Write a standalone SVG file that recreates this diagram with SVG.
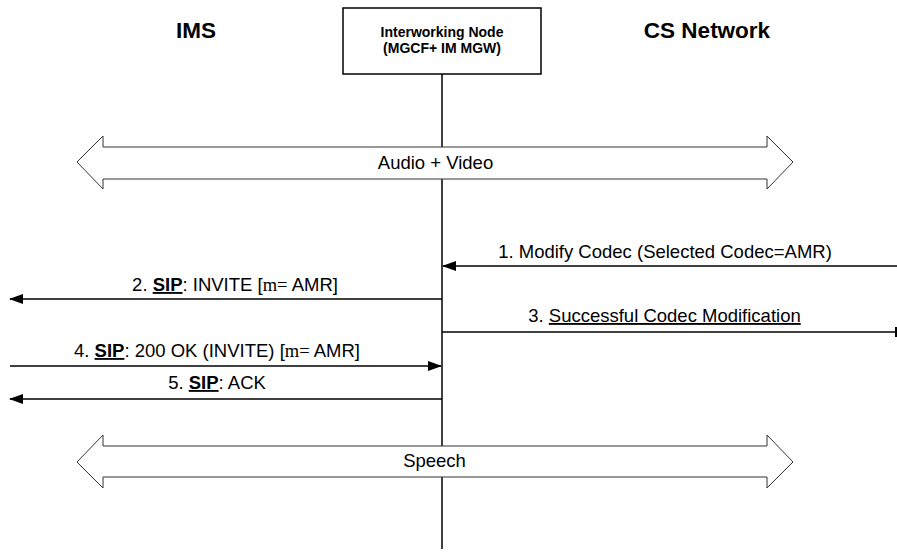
<svg xmlns="http://www.w3.org/2000/svg" width="897" height="558" viewBox="0 0 897 558">
<style>
text{font-family:"Liberation Sans",Arial,sans-serif;fill:#000}
.hdr{font-size:22.5px;font-weight:bold}
.lbl{font-size:18.5px}
.tm{font-family:"Liberation Serif","Times New Roman",serif}
.msg{stroke:#000;stroke-width:1.5;fill:none}
.big{fill:#fff;stroke:#333;stroke-width:1}
</style>
<defs>
<marker id="ah" markerWidth="14" markerHeight="10" refX="13" refY="5" orient="auto" markerUnits="userSpaceOnUse">
<path d="M0,0 L14,5 L0,10 Z" fill="#000"/>
</marker>
<marker id="tee" markerWidth="2" markerHeight="10" refX="1" refY="5" orient="auto" markerUnits="userSpaceOnUse">
<rect x="0" y="0" width="2" height="10" fill="#000"/>
</marker>
</defs>
<rect width="897" height="558" fill="#fff"/>
<text class="hdr" x="196" y="38" text-anchor="middle">IMS</text>
<text class="hdr" x="707" y="38" text-anchor="middle">CS Network</text>
<g id="node-iw">
<rect x="343" y="8" width="198" height="66" fill="#fff" stroke="#000" stroke-width="1.5"/>
<text x="442" y="37" text-anchor="middle" font-size="14" font-weight="bold">Interworking Node</text>
<text x="442" y="53" text-anchor="middle" font-size="14" font-weight="bold">(MGCF+ IM MGW)</text>
</g>
<g id="lifeline">
<line x1="442" y1="74" x2="442" y2="549" stroke="#000" stroke-width="1.5"/>
</g>
<g id="bearer-av">
<path class="big" d="M77,162 L103,136 L103,147 L767,147 L767,136 L793,162 L767,189 L767,179 L103,179 L103,189 Z"/>
<text class="lbl" x="435.5" y="169" text-anchor="middle">Audio + Video</text>
</g>
<g id="bearer-speech">
<path class="big" d="M77,462 L103,435 L103,446 L767,446 L767,435 L793,462 L767,488 L767,477 L103,477 L103,488 Z"/>
<text class="lbl" x="434.5" y="467" text-anchor="middle">Speech</text>
</g>
<g id="connectors">
<line class="msg" x1="897" y1="266" x2="443" y2="266" marker-end="url(#ah)"/>
<text class="lbl" x="665" y="258" text-anchor="middle">1. Modify Codec (Selected Codec=AMR)</text>
<line class="msg" x1="442" y1="299" x2="10" y2="299" marker-end="url(#ah)"/>
<text class="lbl" x="235" y="291" text-anchor="middle">2. <tspan font-weight="bold" text-decoration="underline">SIP</tspan>: INVITE [<tspan class="tm">m=</tspan> AMR]</text>
<line class="msg" x1="442" y1="332" x2="896" y2="332" marker-end="url(#tee)"/>
<text class="lbl" x="664.5" y="322" text-anchor="middle">3. <tspan text-decoration="underline">Successful Codec Modification</tspan></text>
<line class="msg" x1="10" y1="366" x2="441" y2="366" marker-end="url(#ah)"/>
<text class="lbl" x="217" y="357" text-anchor="middle">4. <tspan font-weight="bold" text-decoration="underline">SIP</tspan>: 200 OK (INVITE) [<tspan class="tm">m=</tspan> AMR]</text>
<line class="msg" x1="442" y1="399" x2="10" y2="399" marker-end="url(#ah)"/>
<text class="lbl" x="217" y="389" text-anchor="middle">5. <tspan font-weight="bold" text-decoration="underline">SIP</tspan>: ACK</text>
</g>
</svg>
